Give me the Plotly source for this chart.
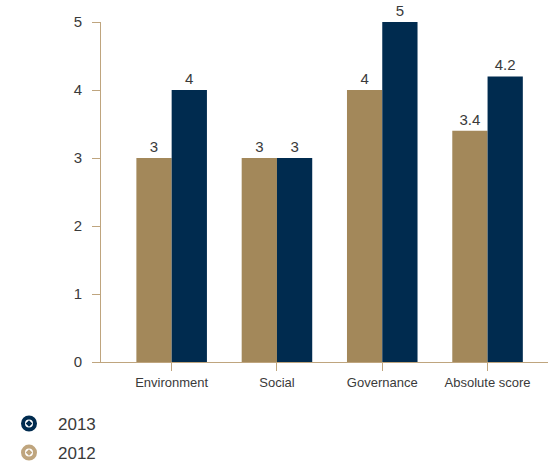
import plotly.graph_objects as go

categories = ["Environment", "Social", "Governance", "Absolute score"]
values_2012 = [3, 3, 4, 3.4]
values_2013 = [4, 3, 5, 4.2]
labels_2012 = ["3", "3", "4", "3.4"]
labels_2013 = ["4", "3", "5", "4.2"]

TAN = "#A3885A"
NAVY = "#002B4F"
AXIS = "#BFA57E"
TXT = "#3a3a3a"
FONT = "Liberation Sans, Arial, sans-serif"

fig = go.Figure()
fig.add_trace(go.Bar(x=categories, y=values_2012, marker=dict(color=TAN, line=dict(width=0)),
                     text=labels_2012, textposition="outside", textfont=dict(size=15, color=TXT),
                     cliponaxis=False, showlegend=False, name="2012"))
fig.add_trace(go.Bar(x=categories, y=values_2013, marker=dict(color=NAVY, line=dict(width=0)),
                     text=labels_2013, textposition="outside", textfont=dict(size=15, color=TXT),
                     cliponaxis=False, showlegend=False, name="2013"))
# legend entries
fig.add_trace(go.Scatter(x=[None], y=[None], mode="markers", name="2013", legend="legend",
                         marker=dict(symbol="circle-open-dot", size=12, color=NAVY, line=dict(width=4, color=NAVY))))
fig.add_trace(go.Scatter(x=[None], y=[None], mode="markers", name="2012", legend="legend2",
                         marker=dict(symbol="circle-open-dot", size=12, color="#BFA57E", line=dict(width=4, color="#BFA57E"))))

leg_common = dict(xref="container", yref="container", xanchor="left", yanchor="middle",
                  font=dict(size=17, color=TXT), itemwidth=48,
                  bgcolor="rgba(0,0,0,0)", borderwidth=0)

fig.update_layout(
    width=548, height=462,
    margin=dict(l=101, r=0, t=22, b=100, autoexpand=False),
    paper_bgcolor="white", plot_bgcolor="white",
    barmode="group", bargap=0.33, bargroupgap=0,
    font=dict(family=FONT, color=TXT),
    showlegend=True,
    legend=dict(x=0, y=0.0823, **leg_common),
    legend2=dict(x=0, y=0.0195, **leg_common),
    xaxis=dict(range=[-0.671, 3.574], showline=True, linecolor=AXIS, linewidth=1,
               ticks="outside", ticklen=8, tickcolor=AXIS, tickfont=dict(size=13, color=TXT),
               showgrid=False, zeroline=False, fixedrange=True, automargin=False),
    yaxis=dict(range=[0, 5], tickvals=[0, 1, 2, 3, 4, 5], showline=True, linecolor=AXIS, linewidth=1,
               ticks="outside", ticklen=8, tickcolor=AXIS, tickfont=dict(size=15, color=TXT),
               ticklabelstandoff=7,
               showgrid=False, zeroline=False, fixedrange=True, automargin=False),
)

fig.write_html("out.html")
